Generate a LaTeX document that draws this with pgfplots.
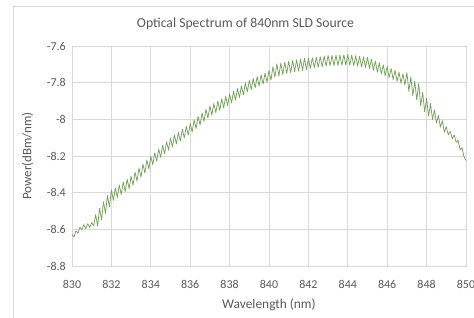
\documentclass[border=0pt]{standalone}
\usepackage{pgfplots}
\pgfplotsset{compat=1.18}
\usepackage{fontspec}
\setmainfont{Carlito}
\definecolor{txt}{HTML}{595959}
\definecolor{gridc}{HTML}{D9D9D9}
\definecolor{linec}{HTML}{76A35A}
\begin{document}
\begin{tikzpicture}
\draw[gridc, line width=0.8pt] (-59pt,-80pt) rectangle (430pt,260pt);
\begin{axis}[
  at={(0,0)}, anchor=south west,
  scale only axis, width=394pt, height=220pt,
  xmin=830, xmax=850, ymin=-8.8, ymax=-7.6,
  xtick={830,832,...,850},
  ytick={-8.8,-8.6,-8.4,-8.2,-8,-7.8,-7.6},
  grid=major,
  major grid style={gridc, line width=0.8pt},
  axis line style={gridc, line width=0.8pt},
  tick style={draw=none},
  /pgf/number format/assume math mode=true,
  /pgf/number format/1000 sep={},
  ticklabel style={font=\fontsize{12}{14}\selectfont, text=txt},
  xticklabel style={anchor=base, inner sep=0pt, yshift=-23pt},
  yticklabel style={anchor=east, inner sep=0pt, xshift=-6pt},
  xlabel={Wavelength (nm)},
  ylabel={Power(dBm/nm)},
  xlabel style={at={([yshift=-43pt]axis description cs:0.5,0)}, anchor=base, font=\fontsize{13.4}{15}\selectfont, text=txt, inner sep=0pt},
  ylabel style={at={([xshift=-44.5pt]axis description cs:0,0.5)}, anchor=center, font=\fontsize{13}{15}\selectfont, text=txt, inner sep=0pt},
]
\addplot[linec, line width=0.75pt, line join=round] coordinates {
(830.0,-8.628) (830.1,-8.642) (830.2,-8.608) (830.3,-8.622) (830.4,-8.588) (830.5,-8.602)
(830.6,-8.575) (830.7,-8.596) (830.8,-8.569) (830.9,-8.590) (831.0,-8.563) (831.1,-8.582)
(831.2,-8.520) (831.3,-8.583) (831.4,-8.485) (831.5,-8.548) (831.6,-8.450) (831.7,-8.513)
(831.8,-8.415) (831.9,-8.478) (832.0,-8.385) (832.1,-8.442) (832.2,-8.374) (832.3,-8.426)
(832.4,-8.358) (832.5,-8.410) (832.6,-8.342) (832.7,-8.394) (832.8,-8.326) (832.9,-8.378)
(833.0,-8.310) (833.1,-8.359) (833.2,-8.288) (833.3,-8.337) (833.4,-8.266) (833.5,-8.315)
(833.6,-8.244) (833.7,-8.293) (833.8,-8.222) (833.9,-8.271) (834.0,-8.202) (834.1,-8.248)
(834.2,-8.182) (834.3,-8.228) (834.4,-8.162) (834.5,-8.208) (834.6,-8.142) (834.7,-8.188)
(834.8,-8.122) (834.9,-8.168) (835.0,-8.102) (835.1,-8.150) (835.2,-8.086) (835.3,-8.134)
(835.4,-8.070) (835.5,-8.118) (835.6,-8.054) (835.7,-8.102) (835.8,-8.038) (835.9,-8.086)
(836.0,-8.022) (836.1,-8.069) (836.2,-8.003) (836.3,-8.050) (836.4,-7.984) (836.5,-8.031)
(836.6,-7.965) (836.7,-8.012) (836.8,-7.946) (836.9,-7.993) (837.0,-7.927) (837.1,-7.977)
(837.2,-7.914) (837.3,-7.964) (837.4,-7.901) (837.5,-7.951) (837.6,-7.888) (837.7,-7.938)
(837.8,-7.875) (837.9,-7.925) (838.0,-7.862) (838.1,-7.911) (838.2,-7.847) (838.3,-7.896)
(838.4,-7.832) (838.5,-7.881) (838.6,-7.817) (838.7,-7.866) (838.8,-7.802) (838.9,-7.851)
(839.0,-7.787) (839.1,-7.838) (839.2,-7.777) (839.3,-7.828) (839.4,-7.767) (839.5,-7.818)
(839.6,-7.757) (839.7,-7.808) (839.8,-7.747) (839.9,-7.798) (840.0,-7.733) (840.1,-7.787)
(840.2,-7.713) (840.3,-7.770) (840.4,-7.697) (840.5,-7.764) (840.6,-7.694) (840.7,-7.756)
(840.8,-7.689) (840.9,-7.750) (841.0,-7.683) (841.1,-7.745) (841.2,-7.679) (841.3,-7.741)
(841.4,-7.675) (841.5,-7.737) (841.6,-7.671) (841.7,-7.733) (841.8,-7.667) (841.9,-7.729)
(842.0,-7.667) (842.1,-7.722) (842.2,-7.664) (842.3,-7.719) (842.4,-7.661) (842.5,-7.716)
(842.6,-7.658) (842.7,-7.713) (842.8,-7.655) (842.9,-7.710) (843.0,-7.652) (843.1,-7.708)
(843.2,-7.651) (843.3,-7.707) (843.4,-7.650) (843.5,-7.706) (843.6,-7.649) (843.7,-7.705)
(843.8,-7.648) (843.9,-7.704) (844.0,-7.647) (844.1,-7.705) (844.2,-7.650) (844.3,-7.708)
(844.4,-7.653) (844.5,-7.711) (844.6,-7.656) (844.7,-7.714) (844.8,-7.659) (844.9,-7.717)
(845.0,-7.662) (845.1,-7.723) (845.2,-7.672) (845.3,-7.733) (845.4,-7.682) (845.5,-7.743)
(845.6,-7.692) (845.7,-7.753) (845.8,-7.702) (845.9,-7.763) (846.0,-7.712) (846.1,-7.773)
(846.2,-7.722) (846.3,-7.783) (846.4,-7.732) (846.5,-7.793) (846.6,-7.742) (846.7,-7.803)
(846.8,-7.752) (846.9,-7.813) (847.0,-7.745) (847.1,-7.847) (847.2,-7.769) (847.3,-7.871)
(847.4,-7.793) (847.5,-7.895) (847.6,-7.805) (847.7,-7.927) (847.8,-7.853) (847.9,-7.959)
(848.0,-7.885) (848.1,-7.982) (848.2,-7.914) (848.3,-8.001) (848.4,-7.948) (848.5,-8.020)
(848.6,-7.979) (848.7,-8.043) (848.8,-8.007) (848.9,-8.071) (849.0,-8.040) (849.1,-8.085)
(849.2,-8.065) (849.3,-8.105) (849.4,-8.085) (849.5,-8.125) (849.6,-8.115) (849.7,-8.165)
(849.8,-8.155) (849.9,-8.205) (850.0,-8.225)
};
\end{axis}
\node[anchor=base, text=txt, font=\fontsize{13.7}{16}\selectfont, inner sep=0pt] at (173.5pt,238pt) {Optical Spectrum of 840nm SLD Source};
\pgfresetboundingbox
\useasboundingbox (-72pt,-52pt) rectangle (402pt,266pt);
\end{tikzpicture}
\end{document}
